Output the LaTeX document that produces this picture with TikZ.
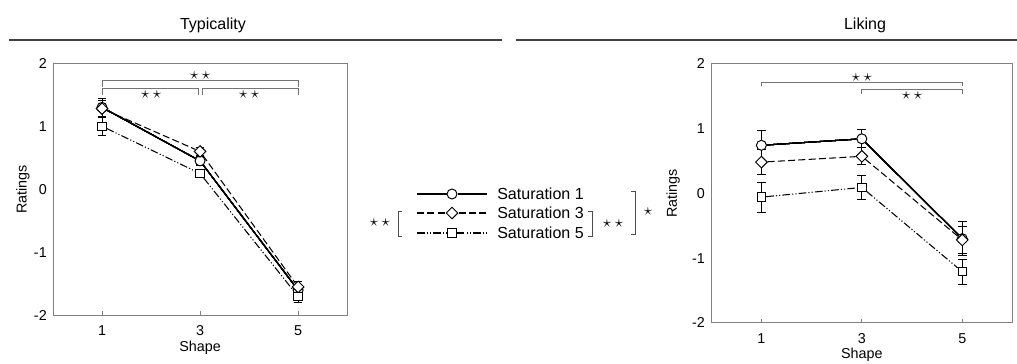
\documentclass[tikz,border=0pt]{standalone}
\usepackage{fontspec}
\setmainfont{Liberation Sans}
\usetikzlibrary{positioning,shapes.geometric,backgrounds}
\tikzset{
chart/.style={
    x=0.025cm,
    y=0.025cm,
    font=\fontsize{10.2}{12}\selectfont
},
frame/.style={
    draw=black!50,
    line width=0.6pt
},
rule/.style={
    draw=black!75,
    line width=1.2pt
},
head/.style={
    font=\fontsize{11.4}{13}\selectfont
},
legtext/.style={
    inner sep=0pt,
    font=\fontsize{11.4}{13}\selectfont
},
tick/.style={
    inner sep=0pt
},
sig/.style={
    draw=black!55,
    line width=0.65pt
},
brk/.style={
    draw=black!70,
    line width=0.6pt
},
stars/.style={
    inner sep=0pt,
    font=\fontsize{12}{12}\selectfont
},
err/.style={
    line width=0.6pt
},
sone/.style={
    line width=0.75pt
},
sthree/.style={
    line width=0.75pt,
    dash pattern=on 5pt off 2.3pt
},
sfive/.style={
    line width=0.75pt,
    dash pattern=on 5.5pt off 1.5pt on 0.8pt off 1.5pt on 0.8pt off 1.5pt
},
mone/.style={
    circle,
    draw,
    fill=white,
    inner sep=0pt,
    minimum size=2.5mm,
    line width=0.7pt
},
mthree/.style={
    diamond,
    draw,
    fill=white,
    inner sep=0pt,
    minimum size=3mm,
    line width=0.7pt
},
mfive/.style={
    rectangle,
    draw,
    fill=white,
    inner sep=0pt,
    minimum size=2.1mm,
    line width=0.7pt
}}
\newcommand{\twostar}{$\star\hspace{2.5pt}\star$}
\newcommand{\ebar}[3]{%
  \draw[err] (#1,#2-#3) -- (#1,#2+#3)
    (#1,#2-#3) ++(-0.11cm,0) -- ++(0.22cm,0)
    (#1,#2+#3) ++(-0.11cm,0) -- ++(0.22cm,0);}

\begin{document}
\begin{tikzpicture}[chart]
\useasboundingbox (0,0) rectangle (1017,363);

% headings
\node[head] (typ) at (213,338) {Typicality};
\node[head] (lik) at (865,338) {Liking};
\draw[rule] (9,323) -- (502,323);
\draw[rule] (516,323) -- (1017,323);

% typicality panel
\begin{scope}[shift={(1.325cm,4.3425cm)}, x=1.225cm, y=1.575cm]
\draw[frame] (0,-2) rectangle (6,2);
\foreach \s in {1,3,5} {
    \draw[frame] (\s,-2) -- ++(0,0.1cm);
    \node[tick, anchor=north] (tx\s) at ([yshift=-0.25cm]\s,-2) {\s};
}
\foreach \v in {-2,...,2}
    \node[tick, anchor=east] (ty\v) at ([xshift=-0.15cm]0,\v) {\v};
\node[rotate=90] (tylab) at ([xshift=-0.75cm]0,0) {Ratings};
\node (txlab) at ([yshift=-0.8cm]3,-2) {Shape};

\draw[sig] (1,1.62) -- (1,1.73) -- (5,1.73) -- (5,1.62);
\draw[sig] (1,1.5) -- (1,1.6) -- (2.96,1.6) -- (2.96,1.5);
\draw[sig] (3.04,1.5) -- (3.04,1.6) -- (5,1.6) -- (5,1.5);
\node[stars, above=0.5pt] (tsa) at (3,1.73) {\twostar};
\node[stars, below=1.5pt] (tsb) at (2,1.6) {\twostar};
\node[stars, below=1.5pt] (tsc) at (4,1.6) {\twostar};

\node[mone]    (t11)    at (1,1.30)    {};
\node[mone]    (t13)    at (3,0.45)    {};
\node[mone]    (t15)    at (5,-1.60)    {};
\node[mthree]    (t31)    at (1,1.28)    {};
\node[mthree]    (t33)    at (3,0.60)    {};
\node[mthree]    (t35)    at (5,-1.55)    {};
\node[mfive]    (t51)    at (1,1.00)    {};
\node[mfive]    (t53)    at (3,0.25)    {};
\node[mfive]    (t55)    at (5,-1.70)    {};

\begin{pgfonlayer}{background}
\foreach \s/\m/\e in {1/1.30/0.14, 3/0.45/0.07, 5/-1.60/0.08,
    1/1.28/0.13, 3/0.60/0.06, 5/-1.55/0.08,
    1/1.00/0.14, 3/0.25/0.07, 5/-1.70/0.10}
    \ebar{\s}{\m}{\e}
\draw[sone]    (t11) -- (t13) -- (t15);
\draw[sthree]    (t31) -- (t33) -- (t35);
\draw[sfive]    (t51) -- (t53) -- (t55);
\end{pgfonlayer}
\end{scope}

% liking panel
\begin{scope}[shift={(17.775cm,4.2425cm)}, x=1.255cm, y=1.62cm]
\draw[frame] (0,-2) rectangle (6,2);
\foreach \s in {1,3,5} {
    \draw[frame] (\s,-2) -- ++(0,0.1cm);
    \node[tick, anchor=north] (lx\s) at ([yshift=-0.25cm]\s,-2) {\s};
}
\foreach \v in {-2,...,2}
    \node[tick, anchor=east] (ly\v) at ([xshift=-0.15cm]0,\v) {\v};
\node[rotate=90] (lylab) at ([xshift=-0.95cm]0,0) {Ratings};
\node (lxlab) at ([yshift=-0.8cm]3,-2) {Shape};

\draw[sig] (1,1.65) -- (1,1.71) -- (5,1.71) -- (5,1.65);
\draw[sig] (3,1.53) -- (3,1.6) -- (5,1.6) -- (5,1.53);
\node[stars, above=0.5pt] (lsa) at (3,1.71) {\twostar};
\node[stars, below=1.5pt] (lsb) at (4,1.6) {\twostar};

\node[mone]    (l11)    at (1,0.74)    {};
\node[mone]    (l13)    at (3,0.84)    {};
\node[mone]    (l15)    at (5,-0.70)    {};
\node[mthree]    (l31)    at (1,0.48)    {};
\node[mthree]    (l33)    at (3,0.57)    {};
\node[mthree]    (l35)    at (5,-0.72)    {};
\node[mfive]    (l51)    at (1,-0.06)    {};
\node[mfive]    (l53)    at (3,0.09)    {};
\node[mfive]    (l55)    at (5,-1.21)    {};

\begin{pgfonlayer}{background}
\foreach \s/\m/\e in {1/0.74/0.23, 3/0.84/0.14, 5/-0.70/0.26,
    1/0.48/0.19, 3/0.57/0.13, 5/-0.72/0.21,
    1/-0.06/0.23, 3/0.09/0.19, 5/-1.21/0.19}
    \ebar{\s}{\m}{\e}
\draw[sone]    (l11) -- (l13) -- (l15);
\draw[sthree]    (l31) -- (l33) -- (l35);
\draw[sfive]    (l51) -- (l53) -- (l55);
\end{pgfonlayer}
\end{scope}

% legend
\coordinate (gonea) at (417,169);
\coordinate (goneb) at (487,169);
\coordinate (gthreea) at (417,150);
\coordinate (gthreeb) at (487,150);
\coordinate (gfivea) at (417,130);
\coordinate (gfiveb) at (487,130);
\node[mone]    (gone)    at (452,169)    {};
\node[mthree]    (gthree)    at (452,150)    {};
\node[mfive]    (gfive)    at (452,130)    {};
\draw[sone]    (gonea) -- (gone) -- (goneb);
\draw[sthree]    (gthreea) -- (gthree) -- (gthreeb);
\draw[sfive]    (gfivea) -- (gfive) -- (gfiveb);
\node[legtext, right=0.25cm of goneb]    (tone)    {Saturation 1};
\node[legtext, right=0.25cm of gthreeb]    (tthree)    {Saturation 3};
\node[legtext, right=0.25cm of gfiveb]    (tfive)    {Saturation 5};

% legend brackets
\coordinate (ba) at (398,152);
\coordinate (bb) at (398,127);
\draw[brk] ([xshift=0.1cm]ba) -- (ba) -- (bb) -- ([xshift=0.1cm]bb);
\node[stars] (bs) at (380,140) {\twostar};
\coordinate (ca) at (592,152);
\coordinate (cb) at (592,127);
\draw[brk] ([xshift=-0.1cm]ca) -- (ca) -- (cb) -- ([xshift=-0.1cm]cb);
\node[stars] (cs) at (613,139) {\twostar};
\coordinate (da) at (635,172);
\coordinate (db) at (635,129);
\draw[brk] ([xshift=-0.1cm]da) -- (da) -- (db) -- ([xshift=-0.1cm]db);
\node[stars] (ds) at (648,151) {$\star$};
\end{tikzpicture}
\end{document}
